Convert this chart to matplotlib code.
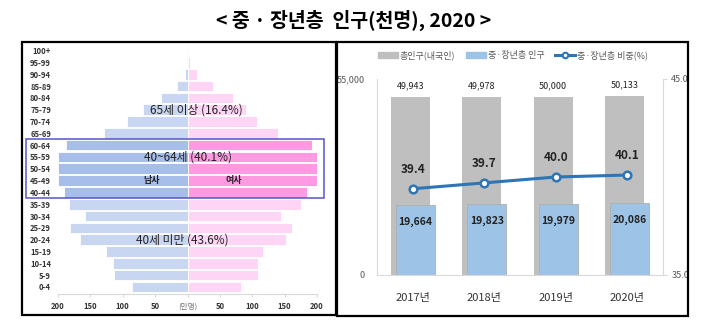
import matplotlib
matplotlib.use('Agg')
import matplotlib.pyplot as plt
from matplotlib.patches import Rectangle
from matplotlib.lines import Line2D

plt.rcParams['font.family'] = ['Noto Sans CJK KR', 'DejaVu Sans']

# pyramid data (만명), youngest first
age_groups = ['0-4', '5-9', '10-14', '15-19', '20-24', '25-29', '30-34', '35-39', '40-44', '45-49',
              '50-54', '55-59', '60-64', '65-69', '70-74', '75-79', '80-84', '85-89', '90-94', '95-99', '100+']
male = [86, 114, 115.5, 126, 166.5, 181, 158, 183.5, 191, 200, 200, 200, 187, 129, 94, 68, 41, 16.5, 4, 0.5, 0.2]
female = [82, 109, 109, 116.5, 152, 161, 145, 175, 185, 200, 200, 200, 192, 139, 107, 91, 70, 39, 14, 3.6, 1]
pyr_ticks = [-200, -150, -100, -50, 0, 50, 100, 150, 200]
pyr_tick_labels = ['200', '150', '100', '50', '(만명)', '50', '100', '150', '200']

# right panel data (천명, %)
years = ['2017년', '2018년', '2019년', '2020년']
total_pop = [49943, 49978, 50000, 50133]
middle_pop = [19664, 19823, 19979, 20086]
middle_share = [39.4, 39.7, 40.0, 40.1]

W, H = 707, 335
fig = plt.figure(figsize=(W / 100, H / 100), dpi=100)


def px_axes(x0, y0, x1, y1):
    # pixel box (top-left origin) -> figure axes
    return fig.add_axes([x0 / W, 1 - y1 / H, (x1 - x0) / W, (y1 - y0) / H])


fig.text(0.5, 1 - 20 / H, '< 중 · 장년층  인구(천명), 2020 >', ha='center', va='center',
         fontsize=14, fontweight='bold')

# outer boxes
for x0, y0, x1, y1 in [(22, 42, 336, 315), (337, 42, 688, 316)]:
    fig.add_artist(Rectangle((x0 / W, 1 - y1 / H), (x1 - x0) / W, (y1 - y0) / H,
                             transform=fig.transFigure, fill=False, ec='black', lw=1.6))

# ---------- pyramid ----------
ax1 = px_axes(58, 43.6, 317, 294)
ypos = list(range(len(age_groups)))
hl = [8 <= i <= 12 for i in ypos]
m_col = ['#a7bdea' if h else '#c9d6f2' for h in hl]
f_col = ['#fe9ae2' if h else '#fed5f4' for h in hl]
ax1.barh(ypos, [-v for v in male], height=0.9, color=m_col, edgecolor='white', lw=0.6)
ax1.barh(ypos, female, height=0.9, color=f_col, edgecolor='white', lw=0.6)
ax1.set_xlim(-200, 200)
ax1.set_ylim(-0.6, 20.6)
ax1.set_yticks(ypos)
ax1.set_yticklabels(age_groups, fontsize=5.5, fontweight='bold', color='#333333')
ax1.set_xticks(pyr_ticks)
ax1.set_xticklabels(pyr_tick_labels, fontsize=5.5, fontweight='bold', color='#333333')
lbl = ax1.get_xticklabels()[4]
lbl.set_color('#777777')
lbl.set_fontweight('normal')
ax1.tick_params(axis='y', length=0, pad=5)
ax1.tick_params(axis='x', length=2, color='#d9d9d9', pad=4)
for s in ['top', 'right', 'left']:
    ax1.spines[s].set_visible(False)
ax1.spines['bottom'].set_color('#d9d9d9')
ax1.add_patch(Rectangle((-250, 7.5), 461, 5, fill=False, ec='#5555cc', lw=1.1, clip_on=False, zorder=5))
ax1.text(14, 15, '65세 이상 (16.4%)', ha='center', va='center', fontsize=8.5, color='#222222')
ax1.text(0, 11, '40~64세 (40.1%)', ha='center', va='center', fontsize=8.5, color='#222222')
ax1.text(-8, 4, '40세 미만 (43.6%)', ha='center', va='center', fontsize=8.5, color='#222222')
ax1.text(-56, 9, '남사', ha='center', va='center', fontsize=6.5, fontweight='bold', color='#222222')
ax1.text(72, 9, '여사', ha='center', va='center', fontsize=6.5, fontweight='bold', color='#222222')

# ---------- bars + line ----------
ax2 = px_axes(377, 79, 663, 275)
x = list(range(len(years)))
bw = 0.54
ax2.bar([i - 0.035 for i in x], total_pop, width=bw, color='#bfbfbf', zorder=1)
ax2.bar([i + 0.035 for i in x], middle_pop, width=bw, color='#9dc3e6', edgecolor='#b0b0b0',
        lw=0.6, zorder=2)
ax2.set_xlim(-0.5, 3.5)
ax2.set_ylim(0, 55000)
ax2.set_yticks([0, 55000])
ax2.set_yticklabels(['0', '55,000'], fontsize=6.5, color='#595959')
ax2.set_xticks(x)
ax2.set_xticklabels(years, fontsize=8, color='#333333')
ax2.tick_params(axis='x', length=0, pad=13)
ax2.tick_params(axis='y', length=0, pad=9)
for s in ['top', 'right']:
    ax2.spines[s].set_visible(False)
for s in ['left', 'bottom']:
    ax2.spines[s].set_color('#d9d9d9')
for i, v in enumerate(total_pop):
    ax2.annotate(f'{v:,}', (i - 0.035, v), xytext=(0, 5), textcoords='offset points',
                 ha='center', va='bottom', fontsize=6.5, color='#222222')
for i, v in enumerate(middle_pop):
    ax2.annotate(f'{v:,}', (i + 0.035, v), xytext=(0, -12), textcoords='offset points',
                 ha='center', va='center', fontsize=7.5, fontweight='bold', color='#222222')

ax3 = ax2.twinx()
ax3.plot(x, middle_share, color='#2e75b6', lw=2.2, marker='o', ms=5.5, mfc='white', mec='#2e75b6',
         mew=1.8, zorder=5)
ax3.set_ylim(35, 45)
ax3.set_yticks([35, 45])
ax3.set_yticklabels(['35.0', '45.0'], fontsize=6.5, color='#595959')
ax3.tick_params(axis='y', length=3, color='#d9d9d9', pad=3)
for s in ['top', 'left', 'bottom']:
    ax3.spines[s].set_visible(False)
ax3.spines['right'].set_color('#d9d9d9')
for i, v in enumerate(middle_share):
    ax3.annotate(f'{v:.1f}', (i, v), xytext=(0, 14), textcoords='offset points',
                 ha='center', va='center', fontsize=8.5, fontweight='bold', color='#222222')

handles = [Rectangle((0, 0), 1, 1, color='#bfbfbf'),
           Rectangle((0, 0), 1, 1, color='#9dc3e6'),
           Line2D([], [], color='#2e75b6', lw=2.2, marker='o', ms=4, mfc='white', mec='#2e75b6', mew=1.5)]
fig.legend(handles, ['총인구(내국인)', '중·장년층 인구', '중·장년층 비중(%)'], loc='center',
           bbox_to_anchor=(513 / W, 1 - 55 / H), ncol=3, frameon=False, fontsize=6.5,
           labelcolor='#595959', handlelength=2.2, handleheight=0.6, handletextpad=0.2, columnspacing=1.2)

fig.savefig('out.png', dpi=100)
